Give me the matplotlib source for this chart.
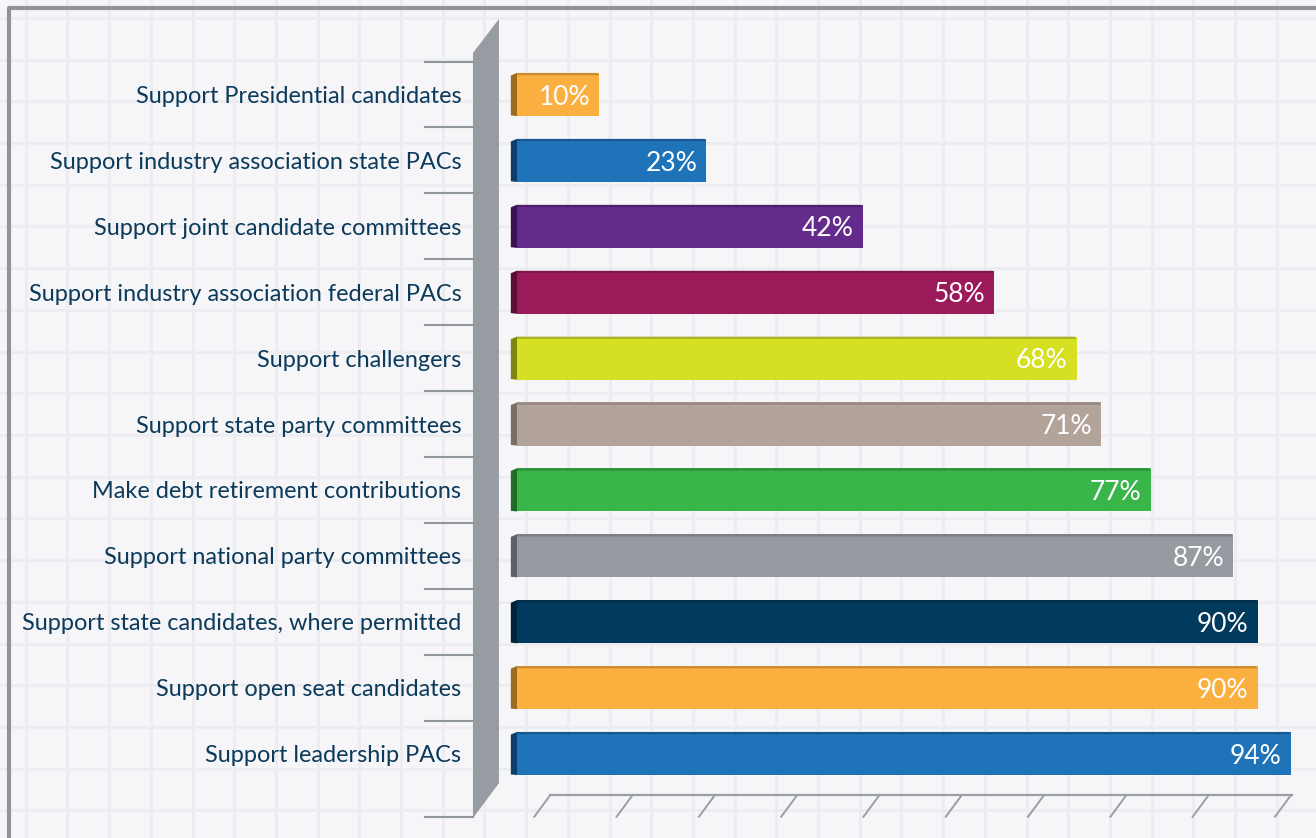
import matplotlib
matplotlib.use("Agg")
import matplotlib.pyplot as plt
from matplotlib.patches import Polygon
import numpy as np

categories = [
    "Support Presidential candidates",
    "Support industry association state PACs",
    "Support joint candidate committees",
    "Support industry association federal PACs",
    "Support challengers",
    "Support state party committees",
    "Make debt retirement contributions",
    "Support national party committees",
    "Support state candidates, where permitted",
    "Support open seat candidates",
    "Support leadership PACs",
]
values = [10, 23, 42, 58, 68, 71, 77, 87, 90, 90, 94]
value_labels = ["10%", "23%", "42%", "58%", "68%", "71%", "77%", "87%", "90%", "90%", "94%"]
bar_colors = ["#FBAF3F", "#1F73B8", "#642A8C", "#9B1B5A", "#D4E021", "#B2A39B",
              "#3AB54A", "#959BA0", "#003A5C", "#FBAF3F", "#1F73B8"]
side_colors = ["#9C6B21", "#0E3F6B", "#3A1252", "#5C0F35", "#7E8510", "#7A6E68",
               "#1F6B2A", "#5E6266", "#00223A", "#9C6B21", "#0E3F6B"]
axis_ticks = [0, 10, 20, 30, 40, 50, 60, 70, 80, 90]

W, H = 1316, 838
fig = plt.figure(figsize=(W / 100, H / 100), dpi=100)
fig.patch.set_facecolor("#F6F6F8")

# background grid-paper axes (decoration)
bg = fig.add_axes([0, 0, 1, 1])
bg.set_xlim(0, W)
bg.set_ylim(H, 0)
bg.axis("off")
for gx in np.arange(-16, W, 41.7):
    bg.axvline(gx, color="#ECECF1", lw=2.0, zorder=0)
for gy in np.arange(18, H, 41.7):
    bg.axhline(gy, color="#ECECF1", lw=2.0, zorder=0)
# frame
bg.plot([8.5, 8.5, W], [H, 8.5, 8.5], color="#8E9499", lw=3, zorder=1, solid_capstyle="butt")

# main data axes
px_per = 8.23
x0 = 517
xmax = 96
y_top_px, y_bot_px = 28, 820
c0, step = 94.5, 65.9
ax = fig.add_axes([x0 / W, 1 - y_bot_px / H, xmax * px_per / W, (y_bot_px - y_top_px) / H])
ax.set_xlim(0, xmax)
ax.set_ylim((y_bot_px - c0) / step, (y_top_px - c0) / step)
ax.patch.set_alpha(0)
for s in ax.spines.values():
    s.set_visible(False)
ax.set_xticks([])

n = len(categories)
ypos = np.arange(n)
bh = 0.655
ax.barh(ypos, values, height=bh, color=bar_colors, zorder=3)
for i, (v, sc) in enumerate(zip(values, side_colors)):
    top = i - bh / 2
    bot = i + bh / 2
    # left side face
    ax.add_patch(Polygon([(-0.75, top + 0.04), (0, top), (0, bot), (-0.75, bot - 0.01)],
                         closed=True, color=sc, zorder=4, lw=0, clip_on=False))
    # top edge
    ax.add_patch(Polygon([(0, top), (v - 0.25, top), (v, top + 0.035), (0, top + 0.035)],
                         closed=True, color=sc, alpha=0.5, zorder=4, lw=0))
    ax.text(v - 1.1, i + 0.04, value_labels[i], color="white", ha="right", va="center",
            fontsize=19, family="Lato", zorder=5)

ax.set_yticks(ypos)
ax.set_yticklabels(categories, fontsize=16.9, family="Lato", color="#0B3A5A")
ax.tick_params(axis="y", length=0, pad=40)

# left pillar (3D wall)
wall_l, wall_r = -5.35, -2.19
ax.add_patch(Polygon([(wall_l, -0.63), (wall_r, -1.146), (wall_r, 10.45), (wall_l, 10.98)],
                     closed=True, color="#969CA1", lw=0, zorder=2, clip_on=False))
# category separator lines
seps = list(np.arange(-0.5, n - 1, 1.0)) + [10.97]
for sy in seps:
    ax.plot([-11.2, wall_l], [sy, sy], color="#8F969C", lw=1.5, clip_on=False, zorder=2)

# bottom slanted axis
base_y = 10.63
ax.plot([4.0, 94.2], [base_y, base_y], color="#9A9FA4", lw=1.6, clip_on=False, zorder=2)
for t in axis_ticks:
    xt = t + 4.05
    ax.plot([xt, xt - 1.95], [base_y, 10.96], color="#9A9FA4", lw=1.4, clip_on=False, zorder=2)

fig.savefig("out.png", dpi=100, facecolor=fig.get_facecolor())
